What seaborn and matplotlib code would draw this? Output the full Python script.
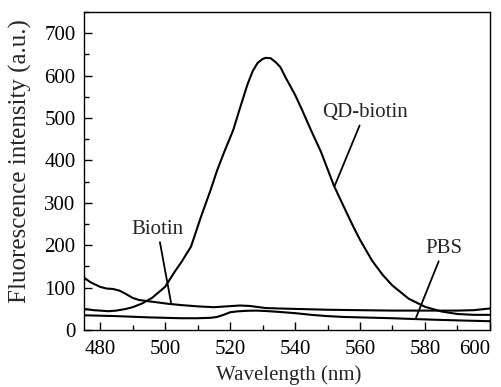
import matplotlib
matplotlib.use("Agg")
import matplotlib.pyplot as plt
import seaborn as sns
from matplotlib.ticker import MultipleLocator

# Spectra
qd_wl = [475, 478, 480, 482.5, 485, 488, 490, 493, 496, 500, 503, 505, 508,
         511, 514, 516, 518, 521, 523, 525.4, 527, 528.5, 530, 531, 532.5,
         534, 535.5, 537, 540, 542, 545, 548, 552, 556, 558, 560, 563.7, 567,
         570, 575, 580, 585, 590, 595, 600]
qd_val = [50, 47, 46, 44.5, 46, 50, 54, 63, 76, 102, 138, 160, 197,
          266, 330, 376, 416, 472, 522, 580, 611, 630, 639, 642, 641,
          632, 620, 597, 555, 522, 470, 420, 340, 275, 243, 213, 164, 130,
          105, 74, 55, 44, 38, 36, 36]

biotin_wl = [475, 477, 480, 482, 484, 486, 488, 490, 492, 495, 498, 501, 505,
             510, 515, 519, 523, 526, 528, 531, 535, 540, 550, 560, 570, 580,
             590, 595, 600]
biotin_val = [124, 113, 102, 98, 97, 93, 85, 76, 71, 68, 65, 62, 59,
              56, 54, 56, 58, 57, 55, 52, 51, 50, 48, 47, 46, 46,
              46, 47, 51]

pbs_wl = [475, 480, 485, 490, 495, 500, 505, 510, 514, 516, 518, 520, 522,
          525, 528, 531, 535, 540, 545, 550, 555, 560, 565, 570, 577, 585,
          592, 600]
pbs_val = [35, 34, 33, 31.5, 30, 29, 28, 28, 29, 31, 36, 42, 44,
           45.5, 46, 45, 43, 40, 36, 33, 31, 30, 29, 28, 26, 24,
           22.5, 21]

x_ticks = [480, 500, 520, 540, 560, 580, 600]

sns.set_theme(style="ticks")
plt.rcParams["font.family"] = ["Liberation Serif", "DejaVu Serif"]

fig = plt.figure(figsize=(5.02, 3.87), dpi=100)
ax = fig.add_axes([0.167, 0.147, 0.809, 0.822])

for wl, val in [(qd_wl, qd_val), (biotin_wl, biotin_val), (pbs_wl, pbs_val)]:
    sns.lineplot(x=wl, y=val, ax=ax, color="black", linewidth=1.5)

ax.set_xlim(475, 600)
ax.set_ylim(0, 750)
ax.set_xticks(x_ticks)
ax.xaxis.set_minor_locator(MultipleLocator(10))
ax.yaxis.set_major_locator(MultipleLocator(100))
ax.yaxis.set_minor_locator(MultipleLocator(50))
ax.tick_params(which="both", direction="in", top=False, right=False,
               labelsize=15, colors="black", width=1)
ax.tick_params(which="major", length=6)
ax.tick_params(axis="x", which="major", pad=7)
ax.tick_params(axis="y", which="major", pad=6)
ax.tick_params(which="minor", length=3.5)
for s in ax.spines.values():
    s.set_color("black")
    s.set_linewidth(1)

# the last x label sits left of its tick in the original
ax.xaxis.get_major_ticks()[-1].label1.set_horizontalalignment("right")

ax.set_xlabel("Wavelength (nm)", fontsize=15)
ax.set_ylabel("Fluorescence intensity (a.u.)", fontsize=18)
ax.xaxis.set_label_coords(0.504, -0.11)
ax.yaxis.set_label_coords(-0.128, 0.53)

# labels with leader lines
ax.annotate("QD-biotin", xy=(552.2, 340), xytext=(561.5, 490),
            fontsize=15, ha="center", va="bottom",
            arrowprops=dict(arrowstyle="-", color="black", lw=1.3,
                            shrinkA=0, shrinkB=0))
ax.annotate("Biotin", xy=(501.9, 62), xytext=(497.7, 215),
            fontsize=15, ha="center", va="bottom",
            arrowprops=dict(arrowstyle="-", color="black", lw=1.3,
                            shrinkA=0, shrinkB=0))
ax.annotate("PBS", xy=(577.1, 26.5), xytext=(585.8, 170),
            fontsize=15, ha="center", va="bottom",
            arrowprops=dict(arrowstyle="-", color="black", lw=1.3,
                            shrinkA=0, shrinkB=0))

fig.savefig("out.png", dpi=100, facecolor="white")
